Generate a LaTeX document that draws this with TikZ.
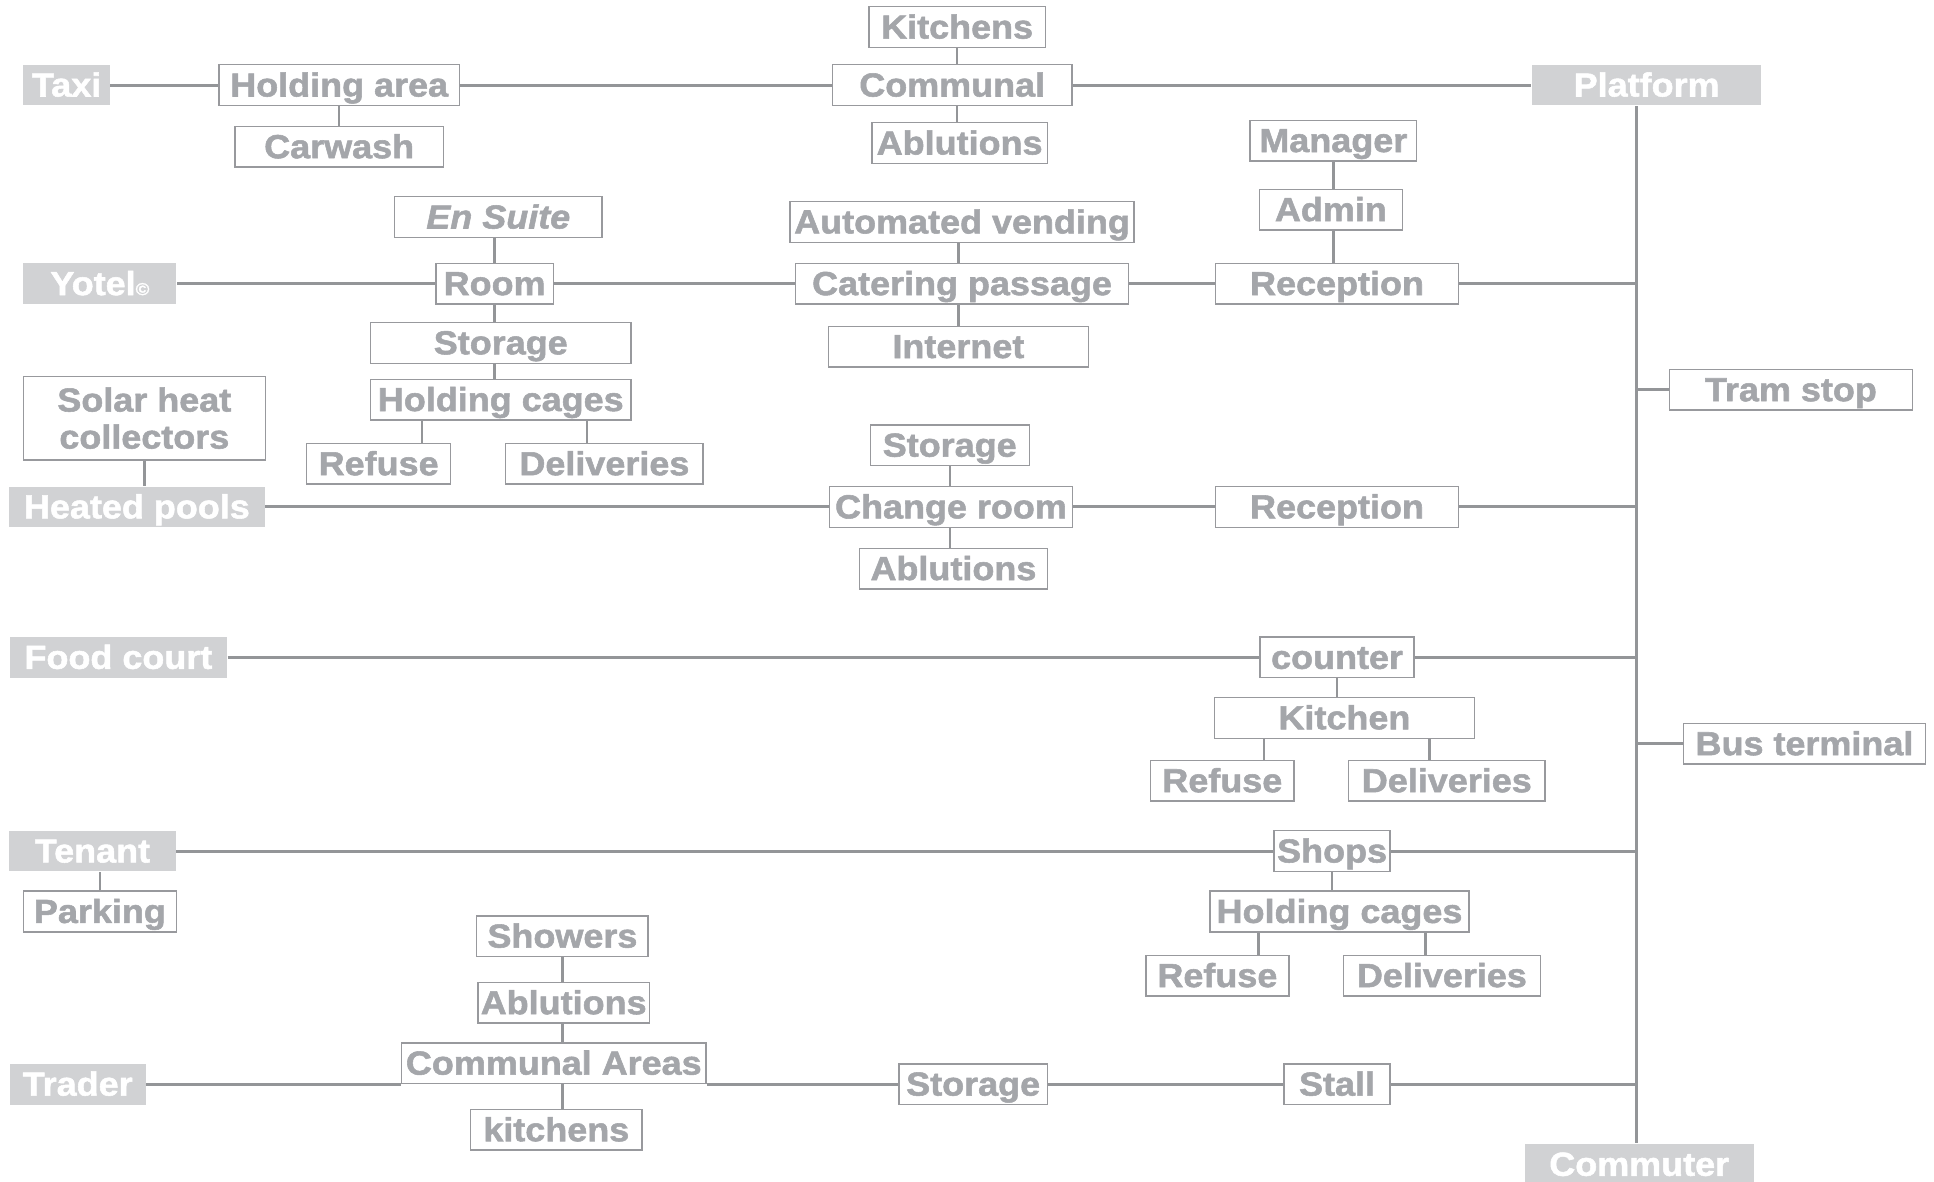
\documentclass[tikz,border=0pt]{standalone}
\usepackage{fontspec}
\setmainfont{Liberation Sans}[FakeStretch=1.08, FakeBold=1.6]

\definecolor{linegray}{RGB}{147,149,152}
\definecolor{boxgray}{RGB}{152,153,157}
\definecolor{txtgray}{RGB}{164,166,170}
\definecolor{zonegray}{RGB}{209,210,212}

\tikzset{
  room/.style={draw=boxgray, line width=1.1pt, fill=white, text=txtgray,
    font=\bfseries\fontsize{27}{30}\selectfont, inner sep=0pt,
    minimum height=33pt, text height=21.5pt, text depth=3pt},
  zone/.style={room, draw=none, fill=zonegray, text=white},
  link/.style={draw=linegray, line width=2.4pt},
  stub/.style={draw=linegray, line width=2pt},
}

\begin{document}
\begin{tikzpicture}[x=1pt, y=-1pt]

    \useasboundingbox (0,0) rectangle (1568,958);
    \coordinate (trunk) at (1327,0);

    % taxi
    \node (Taxi)     [zone, minimum width=70pt]  at (54,69)   {Taxi};
    \node (Hold)     [room, minimum width=195pt] at (275,69)  {Holding area};
    \node (Carwash)  [room, minimum width=169pt] at (275,119) {Carwash};
    \node (Kitchens) [room, minimum width=143pt] at (776,22)  {Kitchens};
    \node (Communal) [room, minimum width=194pt] at (772,69)  {Communal};
    \node (Abl_A)    [room, minimum width=142pt] at (778,116) {Ablutions};
    \node (Platform) [zone, minimum width=186pt] at (1335,69) {Platform};

    \draw [link] (Taxi) -- (Hold);
    \draw [link] (Hold) -- (Communal);
    \draw [link] (Communal) -- (Platform);
    \draw [stub] (Hold) -- (Carwash);
    \draw [stub] (Kitchens) -- (Kitchens |- Communal.north);
    \draw [stub] (Kitchens |- Communal.south) -- (Kitchens |- Abl_A.north);

    % yotel
    \node (Yotel)    [zone, minimum width=124pt] at (81,230)  {Yotel{\fontsize{14}{14}\selectfont ©}};
    \node (EnSuite)  [room, minimum width=168pt, font=\bfseries\itshape\fontsize{27}{30}\selectfont] at (404,176) {En Suite};
    \node (Room)     [room, minimum width=95pt]  at (401,230) {Room};
    \node (Store_A)  [room, minimum width=211pt] at (406,278) {Storage};
    \node (Cages_A)  [room, minimum width=211pt] at (406,324) {Holding cages};
    \node (Refuse_A) [room, minimum width=117pt] at (307,376) {Refuse};
    \node (Deliv_A)  [room, minimum width=160pt] at (490,376) {Deliveries};
    \node (Vending)  [room, minimum width=279pt] at (780,180) {Automated vending};
    \node (Catering) [room, minimum width=270pt] at (780,230) {Catering passage};
    \node (Internet) [room, minimum width=211pt] at (777,281) {Internet};
    \node (Manager)  [room, minimum width=135pt] at (1081,114) {Manager};
    \node (Admin)    [room, minimum width=116pt] at (1079,170) {Admin};
    \node (Recep_A)  [room, minimum width=197pt] at (1084,230) {Reception};
    \node (Tram)     [room, minimum width=197pt] at (1452,316) {Tram stop};

    \draw [link] (Yotel) -- (Room);
    \draw [link] (Room) -- (Catering);
    \draw [link] (Catering) -- (Recep_A);
    \draw [link] (Recep_A.east) -- (Recep_A.east -| trunk);
    \draw [stub] (Room |- EnSuite.south) -- (Room.north);
    \draw [stub] (Room.south) -- (Room |- Store_A.north);
    \draw [stub] (Room |- Store_A.south) -- (Room |- Cages_A.north);
    \draw [stub] ([xshift=42pt]Cages_A.south west) -- ([xshift=42pt]Cages_A.south west |- Refuse_A.north);
    \draw [stub] ([xshift=-36pt]Cages_A.south east) -- ([xshift=-36pt]Cages_A.south east |- Deliv_A.north);
    \draw [stub] (Internet |- Vending.south) -- (Internet |- Catering.north);
    \draw [stub] (Internet |- Catering.south) -- (Internet.north);
    \draw [stub] (Manager) -- (Manager |- Admin.north);
    \draw [stub] (Manager |- Admin.south) -- (Manager |- Recep_A.north);
    \draw [link] (Tram.west) -- (Tram.west -| trunk);

    % heated pools
    \node (Solar)    [room, minimum width=196pt, minimum height=68pt, text height=, text depth=, align=center] at (117,339) {Solar heat\\collectors};
    \node (Heated)   [zone, minimum width=207pt] at (111,411) {Heated pools};
    \node (Store_B)  [room, minimum width=129pt] at (770,361) {Storage};
    \node (Change)   [room, minimum width=197pt] at (771,411) {Change room};
    \node (Abl_B)    [room, minimum width=152pt] at (773,461) {Ablutions};
    \node (Recep_B)  [room, minimum width=197pt] at (1084,411) {Reception};

    \draw [stub] (Solar) -- (Solar |- Heated.north);
    \draw [link] (Heated) -- (Change);
    \draw [link] (Change) -- (Recep_B);
    \draw [link] (Recep_B.east) -- (Recep_B.east -| trunk);
    \draw [stub] (Store_B) -- (Store_B |- Change.north);
    \draw [stub] (Store_B |- Change.south) -- (Store_B |- Abl_B.north);

    % food court
    \node (Food)     [zone, minimum width=176pt] at (96,533)  {Food court};
    \node (Counter)  [room, minimum width=125pt] at (1084,533) {counter};
    \node (Kitchen_C) [room, minimum width=211pt] at (1090,582) {Kitchen};
    \node (Refuse_C) [room, minimum width=116pt] at (991,633) {Refuse};
    \node (Deliv_C)  [room, minimum width=159pt] at (1173,633) {Deliveries};
    \node (Bus)      [room, minimum width=196pt] at (1463,603) {Bus terminal};

    \draw [link] (Food) -- (Counter);
    \draw [link] (Counter.east) -- (Counter.east -| trunk);
    \draw [stub] (Counter) -- (Counter |- Kitchen_C.north);
    \draw [stub] ([xshift=41pt]Kitchen_C.south west) -- ([xshift=41pt]Kitchen_C.south west |- Refuse_C.north);
    \draw [stub] ([xshift=-37pt]Kitchen_C.south east) -- ([xshift=-37pt]Kitchen_C.south east |- Deliv_C.north);
    \draw [link] (Bus.west) -- (Bus.west -| trunk);

    % tenant
    \node (Tenant)   [zone, minimum width=135pt] at (75,690)  {Tenant};
    \node (Parking)  [room, minimum width=124pt] at (81,739)  {Parking};
    \node (Shops)    [room, minimum width=94pt]  at (1080,690) {Shops};
    \node (Cages_D)  [room, minimum width=210pt] at (1086,739) {Holding cages};
    \node (Refuse_D) [room, minimum width=116pt] at (987,791) {Refuse};
    \node (Deliv_D)  [room, minimum width=160pt] at (1169,791) {Deliveries};

    \draw [stub] (Parking) -- (Parking |- Tenant.south);
    \draw [link] (Tenant) -- (Shops);
    \draw [link] (Shops.east) -- (Shops.east -| trunk);
    \draw [stub] (Shops) -- (Shops |- Cages_D.north);
    \draw [stub] ([xshift=40pt]Cages_D.south west) -- ([xshift=40pt]Cages_D.south west |- Refuse_D.north);
    \draw [stub] ([xshift=-36pt]Cages_D.south east) -- ([xshift=-36pt]Cages_D.south east |- Deliv_D.north);

    % trader
    \node (Trader)   [zone, minimum width=110pt] at (63,879)  {Trader};
    \node (Showers)  [room, minimum width=139pt] at (456,759) {Showers};
    \node (Abl_E)    [room, minimum width=139pt] at (457,813) {Ablutions};
    \node (CommAreas) [room, minimum width=247pt] at (449,862) {Communal Areas};
    \node (Kitch_E)  [room, minimum width=139pt] at (451,916) {kitchens};
    \node (Store_E)  [room, minimum width=120pt] at (789,879) {Storage};
    \node (Stall)    [room, minimum width=86pt]  at (1084,879) {Stall};
    \node (Commuter) [zone, minimum width=186pt] at (1329,944) {Commuter};

    \draw [link] (Trader.east) -- (Trader.east -| CommAreas.west);
    \draw [link] (CommAreas.east |- Trader) -- (Store_E);
    \draw [link] (Store_E) -- (Stall);
    \draw [link] (Stall.east) -- (Stall.east -| trunk);
    \draw [stub] (Showers) -- (Showers |- Abl_E.north);
    \draw [stub] (Showers |- Abl_E.south) -- (Showers |- CommAreas.north);
    \draw [stub] (Showers |- CommAreas.south) -- (Showers |- Kitch_E.north);

    \draw [link] (Platform.south -| trunk) -- (Commuter.north -| trunk);

\end{tikzpicture}
\end{document}
